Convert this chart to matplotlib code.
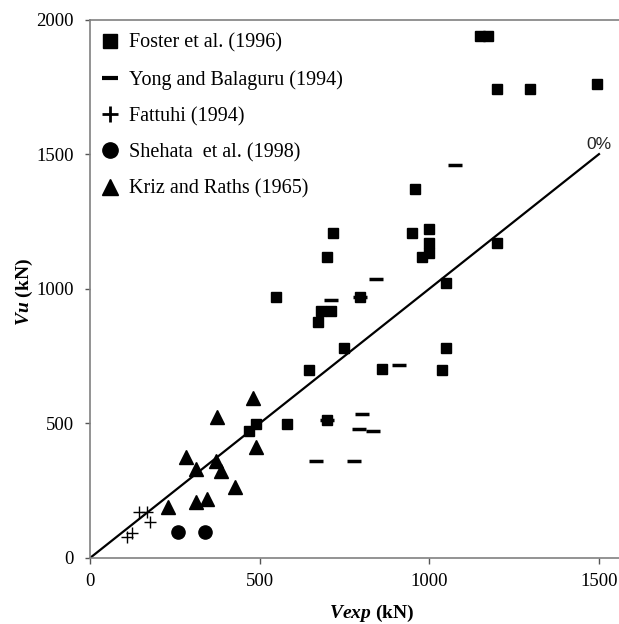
import matplotlib
matplotlib.use("Agg")
import matplotlib.pyplot as plt
from matplotlib.lines import Line2D

plt.rcParams['font.family'] = ['Liberation Serif', 'DejaVu Serif']
plt.rcParams['mathtext.fontset'] = 'custom'
plt.rcParams['mathtext.rm'] = 'Liberation Serif'
plt.rcParams['mathtext.it'] = 'Liberation Serif:italic'
plt.rcParams['mathtext.bf'] = 'Liberation Serif:bold'
plt.rcParams['mathtext.bfit'] = 'Liberation Serif:bold:italic'

# ---- data ----
foster_x = [1149, 1173, 1200, 1297, 1494, 1200, 958, 716, 949, 999, 999, 999, 978, 698,
            1049, 796, 548, 680, 710, 672, 749, 1049, 645, 861, 1037, 489, 469, 580, 698]
foster_y = [1937, 1937, 1743, 1743, 1762, 1171, 1372, 1208, 1208, 1223, 1171, 1134, 1119, 1119,
            1022, 970, 970, 916, 916, 877, 781, 781, 699, 703, 699, 498, 472, 498, 513]

yong_x = [1076, 843, 710, 796, 911, 698, 802, 793, 834, 666, 778]
yong_y = [1461, 1037, 959, 970, 717, 513, 535, 480, 472, 361, 361]

fattuhi_x = [144, 168, 177, 124, 109]
fattuhi_y = [171, 171, 134, 93, 78]

shehata_x = [259, 339]
shehata_y = [97, 97]

kriz_x = [481, 374, 489, 283, 371, 312, 386, 427, 345, 312, 230]
kriz_y = [595, 524, 413, 375, 361, 331, 323, 264, 219, 208, 190]

line_x = [0, 1500]
line_y = [0, 1500]
line_label = "0%"

labels = ["Foster et al. (1996)", "Yong and Balaguru (1994)", "Fattuhi (1994)",
          "Shehata  et al. (1998)", "Kriz and Raths (1965)"]

x_ticks = [0, 500, 1000, 1500]
y_ticks = [0, 500, 1000, 1500, 2000]

# ---- figure ----
W, H = 619, 624
fig = plt.figure(figsize=(W / 100, H / 100), dpi=100)
ax = fig.add_axes([90 / W, 1 - 558 / H, 1 - 90 / W, (558 - 19.5) / H])

ax.plot(line_x, line_y, color='black', lw=1.6, zorder=2)
ax.text(line_x[1], line_y[1] + 8, line_label, ha='center', va='bottom', fontsize=12.5,
        family=['Liberation Sans'], color='#222222')

ax.plot(foster_x, foster_y, ls='none', marker='s', ms=6.5, color='black', zorder=3)
ax.plot(yong_x, yong_y, ls='none', marker='_', ms=9.5, mew=2.5, color='black', zorder=3)
ax.plot(fattuhi_x, fattuhi_y, ls='none', marker='+', ms=9, mew=1.0, color='black', zorder=3)
ax.plot(shehata_x, shehata_y, ls='none', marker='o', ms=9.5, color='black', zorder=3)
ax.plot(kriz_x, kriz_y, ls='none', marker='^', ms=10, color='black', zorder=3)

ax.set_xlim(0, 1559)
ax.set_ylim(0, 2000)
ax.set_xticks(x_ticks)
ax.set_yticks(y_ticks)
ax.tick_params(axis='x', direction='out', length=4.5, width=1, color='#555555',
               labelsize=13.5, pad=6)
ax.tick_params(axis='y', direction='out', length=3.6, width=1, color='#555555',
               labelsize=13.5, pad=8)

for s in ['left', 'bottom', 'top']:
    ax.spines[s].set_color('#808080')
    ax.spines[s].set_linewidth(1.2)
ax.spines['right'].set_visible(False)

ax.set_xlabel(r'$\mathbfit{Vexp}$ (kN)', fontsize=14, fontweight='bold')
ax.xaxis.set_label_coords((372 - 90) / 529, -(603 - 558) / 538.5)
ax.set_ylabel(r'$\mathbfit{Vu}$ (kN)', fontsize=14, fontweight='bold')
ax.yaxis.set_label_coords((35 - 90) / 529, (558 - 292) / 538.5)

handles = [
    Line2D([], [], ls='none', marker='s', ms=10, color='black'),
    Line2D([], [], ls='none', marker='_', ms=11, mew=3, color='black'),
    Line2D([], [], ls='none', marker='+', ms=12, mew=2, color='black'),
    Line2D([], [], ls='none', marker='o', ms=11, color='black'),
    Line2D([], [], ls='none', marker='^', ms=12, color='black'),
]
ax.legend(handles, labels, loc='upper left', frameon=False, fontsize=14.5,
          handlelength=0.8, handletextpad=0.55, labelspacing=0.85,
          borderaxespad=0.3, bbox_to_anchor=(-0.004, 1.0))

fig.savefig('out.png', dpi=100)
